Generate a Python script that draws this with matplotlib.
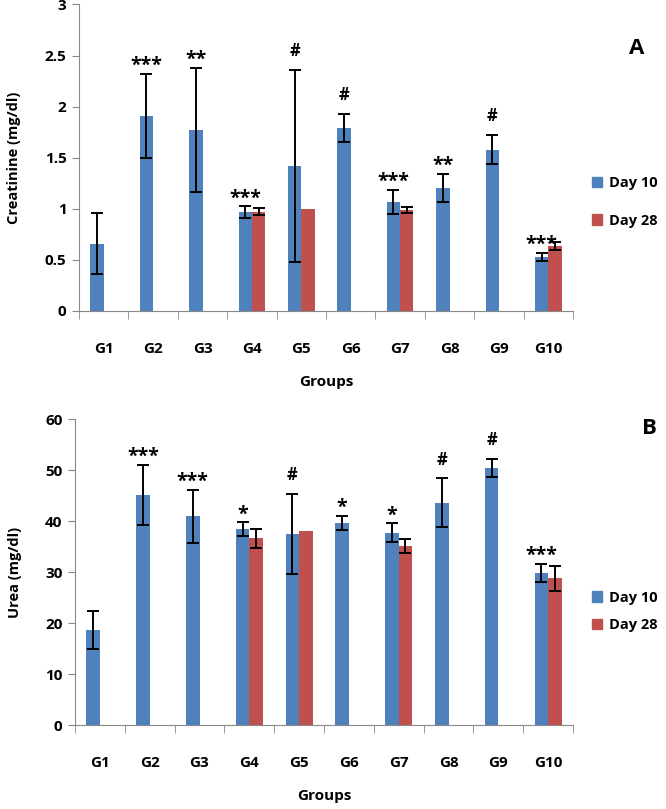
import numpy as np
import matplotlib
matplotlib.use("Agg")
import matplotlib.pyplot as plt
from matplotlib.patches import Patch

groups = ["G1", "G2", "G3", "G4", "G5", "G6", "G7", "G8", "G9", "G10"]

creat_d10 = [0.66, 1.91, 1.77, 0.97, 1.42, 1.79, 1.065, 1.205, 1.58, 0.53]
creat_d10_err = [0.30, 0.41, 0.61, 0.055, 0.94, 0.14, 0.12, 0.14, 0.14, 0.04]
creat_d28 = [np.nan, np.nan, np.nan, 0.97, 1.00, np.nan, 0.99, np.nan, np.nan, 0.64]
creat_d28_err = [np.nan, np.nan, np.nan, 0.035, 0.0, np.nan, 0.03, np.nan, np.nan, 0.04]
creat_sig = ["", "***", "**", "***", "#", "#", "***", "**", "#", "***"]

urea_d10 = [18.7, 45.2, 41.0, 38.5, 37.5, 39.7, 37.8, 43.6, 50.4, 29.9]
urea_d10_err = [3.8, 5.9, 5.2, 1.3, 7.8, 1.35, 1.8, 4.8, 1.75, 1.75]
urea_d28 = [np.nan, np.nan, np.nan, 36.7, 38.1, np.nan, 35.2, np.nan, np.nan, 28.8]
urea_d28_err = [np.nan, np.nan, np.nan, 1.85, 0.0, np.nan, 1.4, np.nan, np.nan, 2.4]
urea_sig = ["", "***", "***", "*", "#", "*", "*", "#", "#", "***"]

series_labels = ["Day 10", "Day 28"]
BLUE = "#4F81BD"
RED = "#C0504D"
FONT = "Open Sans"

plt.rcParams["font.family"] = [FONT, "DejaVu Sans"]
plt.rcParams["font.weight"] = "bold"
plt.rcParams["xtick.major.pad"] = 22
plt.rcParams["xtick.major.size"] = 0

fig = plt.figure(figsize=(6.66, 8.09), dpi=100)
W, H = 666, 809


def px_axes(l, t, r, b):
    return fig.add_axes([l / W, (H - b) / H, (r - l) / W, (b - t) / H])


def panel(ax, d10, e10, d28, e28, sig, ymax, ystep, ylabel, letter, letter_xy,
          leg_anchor, leg_spacing):
    x = np.arange(len(groups))
    bw = 0.27
    ax.bar(x - bw / 2, d10, bw, color=BLUE, zorder=2)
    ax.bar(x + bw / 2, d28, bw, color=RED, zorder=2)
    ax.errorbar(x - bw / 2, d10, yerr=e10, fmt="none", ecolor="black",
                elinewidth=1.4, capsize=4, capthick=1.4, zorder=3)
    e28m = np.array(e28, dtype=float)
    mask = np.nan_to_num(e28m) > 0
    ax.errorbar((x + bw / 2)[mask], np.array(d28)[mask], yerr=e28m[mask],
                fmt="none", ecolor="black", elinewidth=1.4, capsize=4,
                capthick=1.4, zorder=3)
    for i, s in enumerate(sig):
        if not s:
            continue
        top = d10[i] + e10[i]
        off = 10 if s == "#" else 2
        ax.annotate(s, (x[i] - bw / 2, top), xytext=(0, off),
                    textcoords="offset points", ha="center", va="baseline",
                    fontsize=14 if s != "#" else 12, fontweight="bold")
    ax.set_xlim(-0.5, len(groups) - 0.5)
    ax.set_ylim(0, ymax)
    ticks = np.arange(0, ymax + ystep / 2, ystep)
    ax.set_yticks(ticks)
    ax.set_yticklabels([f"{v:g}" for v in ticks])
    ax.set_xticks(x)
    ax.set_xticklabels(groups)
    ax.set_xticks(np.arange(-0.5, len(groups), 1.0), minor=True)
    ax.tick_params(axis="x", which="major", labelsize=11)
    ax.tick_params(axis="x", which="minor", length=6, color="#888888",
                   direction="out")
    ax.tick_params(axis="y", length=5, color="#888888", labelsize=11, pad=4)
    for sp in ["top", "right"]:
        ax.spines[sp].set_visible(False)
    for sp in ["left", "bottom"]:
        ax.spines[sp].set_color("#888888")
    ax.set_ylabel(ylabel, fontsize=10.5, fontweight="bold", labelpad=17)
    ax.set_xlabel("Groups", fontsize=11, fontweight="bold", labelpad=14)
    fig.text(letter_xy[0] / W, 1 - letter_xy[1] / H, letter, fontsize=16,
             fontweight="bold", ha="center", va="center")
    handles = [Patch(color=BLUE), Patch(color=RED)]
    ax.legend(handles, series_labels, loc="center left",
              bbox_to_anchor=(leg_anchor[0] / W, 1 - leg_anchor[1] / H),
              bbox_transform=fig.transFigure, frameon=False,
              prop={"size": 10.5, "weight": "bold"},
              handlelength=0.7, handleheight=0.7, handletextpad=0.45,
              labelspacing=leg_spacing, borderpad=0, borderaxespad=0)


ax1 = px_axes(79, 4.5, 573, 311)
panel(ax1, creat_d10, creat_d10_err, creat_d28, creat_d28_err, creat_sig,
      3, 0.5, "Creatinine (mg/dl)", "A", (637, 49), (592, 202), 1.6)

ax2 = px_axes(75, 419.3, 573, 725.3)
panel(ax2, urea_d10, urea_d10_err, urea_d28, urea_d28_err, urea_sig,
      60, 10, "Urea (mg/dl)", "B", (649, 429), (592, 611.5), 0.95)

fig.savefig("out.png", dpi=100)
